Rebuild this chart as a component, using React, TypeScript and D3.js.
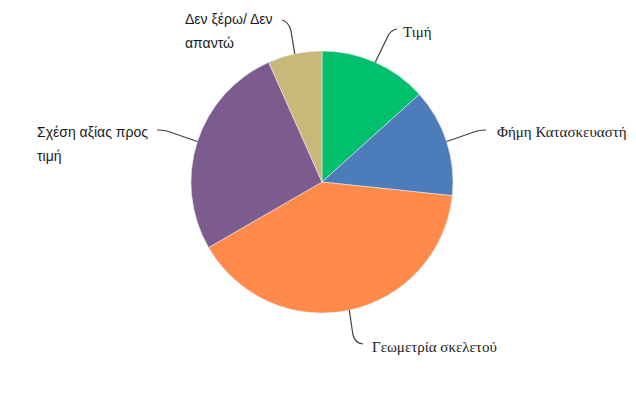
import React, { useEffect } from "react";
import * as d3 from "d3";

const categories = ["Τιμή", "Φήμη Κατασκευαστή", "Γεωμετρία σκελετού", "Σχέση αξίας προς τιμή", "Δεν ξέρω/ Δεν απαντώ"];
const values = [2, 2, 6, 4, 1];
const colors = ["#00C06E", "#4C7DBA", "#FF8A4A", "#7C5B8E", "#C8B97A"];

// layout for labels (lines of text, anchor, font), kept separate from data
const labelLayout = [
  { lines: ["Τιμή"], x: 403, y: 37, serif: true, end: [397, 29], bend: [388, 36], ctrl: [391, 30] },
  { lines: ["Φήμη Κατασκευαστή"], x: 497, y: 137, serif: true, end: [486, 130], bend: [477, 131], ctrl: [482, 130] },
  { lines: ["Γεωμετρία σκελετού"], x: 372, y: 352, serif: true, end: [363, 344], bend: [353, 335], ctrl: [355, 343] },
  { lines: ["Σχέση αξίας προς", "τιμή"], x: 37, y: 137, serif: false, end: [157, 130], bend: [167, 131], ctrl: [162, 130] },
  { lines: ["Δεν ξέρω/ Δεν", "απαντώ"], x: 185, y: 24, serif: false, end: [282, 20], bend: [291, 31], ctrl: [289, 22] },
];

const W = 636, H = 397;
const cx = 322, cy = 182, R = 131;

export default function App() {
  useEffect(() => {
    document.body.style.margin = "0";
  }, []);
  const pie = d3.pie<number>().sort(null).value((d) => d)(values);
  const arc = d3.arc<d3.PieArcDatum<number>>().innerRadius(0).outerRadius(R);
  return (
    <svg width={W} height={H} style={{ display: "block", background: "#fff" }}>
      <g transform={`translate(${cx},${cy})`}>
        {pie.map((p, i) => (
          <path key={i} d={arc(p) || ""} fill={colors[i]} stroke="#e8e8e8" strokeWidth={0.6} />
        ))}
      </g>
      {pie.map((p, i) => {
        const mid = (p.startAngle + p.endAngle) / 2;
        const sx = cx + R * Math.sin(mid);
        const sy = cy - R * Math.cos(mid);
        const L = labelLayout[i];
        const d = `M${sx},${sy} L${L.bend[0]},${L.bend[1]} Q${L.ctrl[0]},${L.ctrl[1]} ${L.end[0]},${L.end[1]}`;
        return <path key={"l" + i} d={d} fill="none" stroke="#404040" strokeWidth={1.2} />;
      })}
      {labelLayout.map((L, i) => (
        <text
          key={"t" + i}
          x={L.x}
          y={L.y}
          fill="#1a1a1a"
          fontFamily={L.serif ? "'Liberation Serif', serif" : "'Liberation Sans', sans-serif"}
          fontSize={L.serif ? 15 : 14}
        >
          {categories[i] && L.lines.map((ln, j) => (
            <tspan key={j} x={L.x} dy={j === 0 ? 0 : 24}>{ln}</tspan>
          ))}
        </text>
      ))}
    </svg>
  );
}
